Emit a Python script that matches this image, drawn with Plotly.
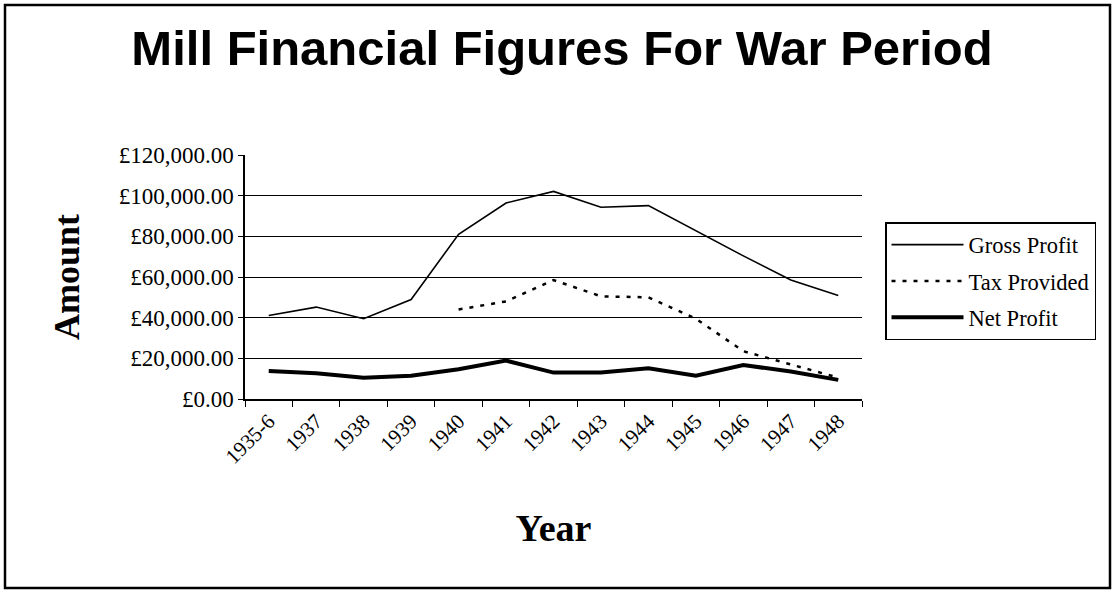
import plotly.graph_objects as go

years = ["1935-6", "1937", "1938", "1939", "1940", "1941", "1942",
         "1943", "1944", "1945", "1946", "1947", "1948"]
gross_profit = [41100, 45200, 39500, 48900, 81000, 96400, 102100,
                94300, 95100, 82600, 70400, 58500, 50900]
tax_provided = [None, None, None, None, 44000, 48000, 58500,
                50500, 50000, 39500, 23500, 17000, 10500]
net_profit = [13800, 12700, 10500, 11400, 14600, 18900, 13000,
              13000, 15100, 11400, 16700, 13500, 9400]
y_ticks = [0, 20000, 40000, 60000, 80000, 100000, 120000]
y_tick_text = ["£{:,.2f}".format(v) for v in y_ticks]

W, H = 1116, 593
L, R, T, B = 245, 254, 155, 194
pw, ph = W - L - R, H - T - B

def px_x(x):
    return (x - L) / pw

def px_y(y):
    return (H - B - y) / ph

serif = "Liberation Serif, Times New Roman, serif"

fig = go.Figure()
fig.add_trace(go.Scatter(x=years, y=gross_profit, name="Gross Profit", mode="lines",
                         legendgroup="g", line=dict(color="black", width=1.6)))
fig.add_trace(go.Scatter(x=years, y=tax_provided, name="Tax Provided", mode="lines",
                         legendgroup="t", line=dict(color="black", width=2.5, dash="4px,7px")))
fig.add_trace(go.Scatter(x=years, y=net_profit, name="Net Profit", mode="lines",
                         legendgroup="n", line=dict(color="black", width=4)))

fig.update_layout(
    width=W, height=H,
    margin=dict(l=L, r=R, t=T, b=B),
    paper_bgcolor="white", plot_bgcolor="white",
    title=dict(text="<b>Mill Financial Figures For War Period</b>",
               x=562 / W, xanchor="center", y=1 - 48 / H, yanchor="middle",
               font=dict(family="Liberation Sans Narrow, Arial Narrow, Liberation Sans, Arial, sans-serif",
                         size=49, color="black")),
    legend=dict(x=px_x(885), y=px_y(222), xanchor="left", yanchor="top",
                bordercolor="black", borderwidth=1.5, bgcolor="white",
                traceorder="grouped", tracegroupgap=4, itemwidth=72,
                font=dict(family=serif, size=22.5, color="black")),
    font=dict(family=serif, color="black"),
    shapes=[dict(type="rect", xref="paper", yref="paper",
                 x0=px_x(5), x1=px_x(1110), y0=px_y(588), y1=px_y(5),
                 line=dict(color="black", width=2.5), layer="below")],
)

fig.update_xaxes(
    type="category", range=[-0.5, len(years) - 0.5],
    showline=True, linecolor="black", linewidth=1.5,
    ticks="outside", tickson="boundaries", ticklen=6, tickcolor="black", tickwidth=1.2,
    tickangle=-45, tickfont=dict(family=serif, size=21, color="black"),
    showgrid=False,
    title=dict(text="<b>Year</b>", font=dict(family=serif, size=38, color="black"), standoff=47),
)
fig.update_yaxes(
    range=[0, 120000], tickvals=y_ticks, ticktext=y_tick_text,
    showline=True, linecolor="black", linewidth=1.5,
    ticks="outside", ticklen=5, tickcolor="black", tickwidth=1.2,
    tickfont=dict(family=serif, size=23, color="black"),
    showgrid=True, gridcolor="black", gridwidth=1.3, zeroline=False,
    title=dict(text="<b>Amount</b>", font=dict(family=serif, size=36, color="black"), standoff=28),
)

fig.write_html("out.html")
